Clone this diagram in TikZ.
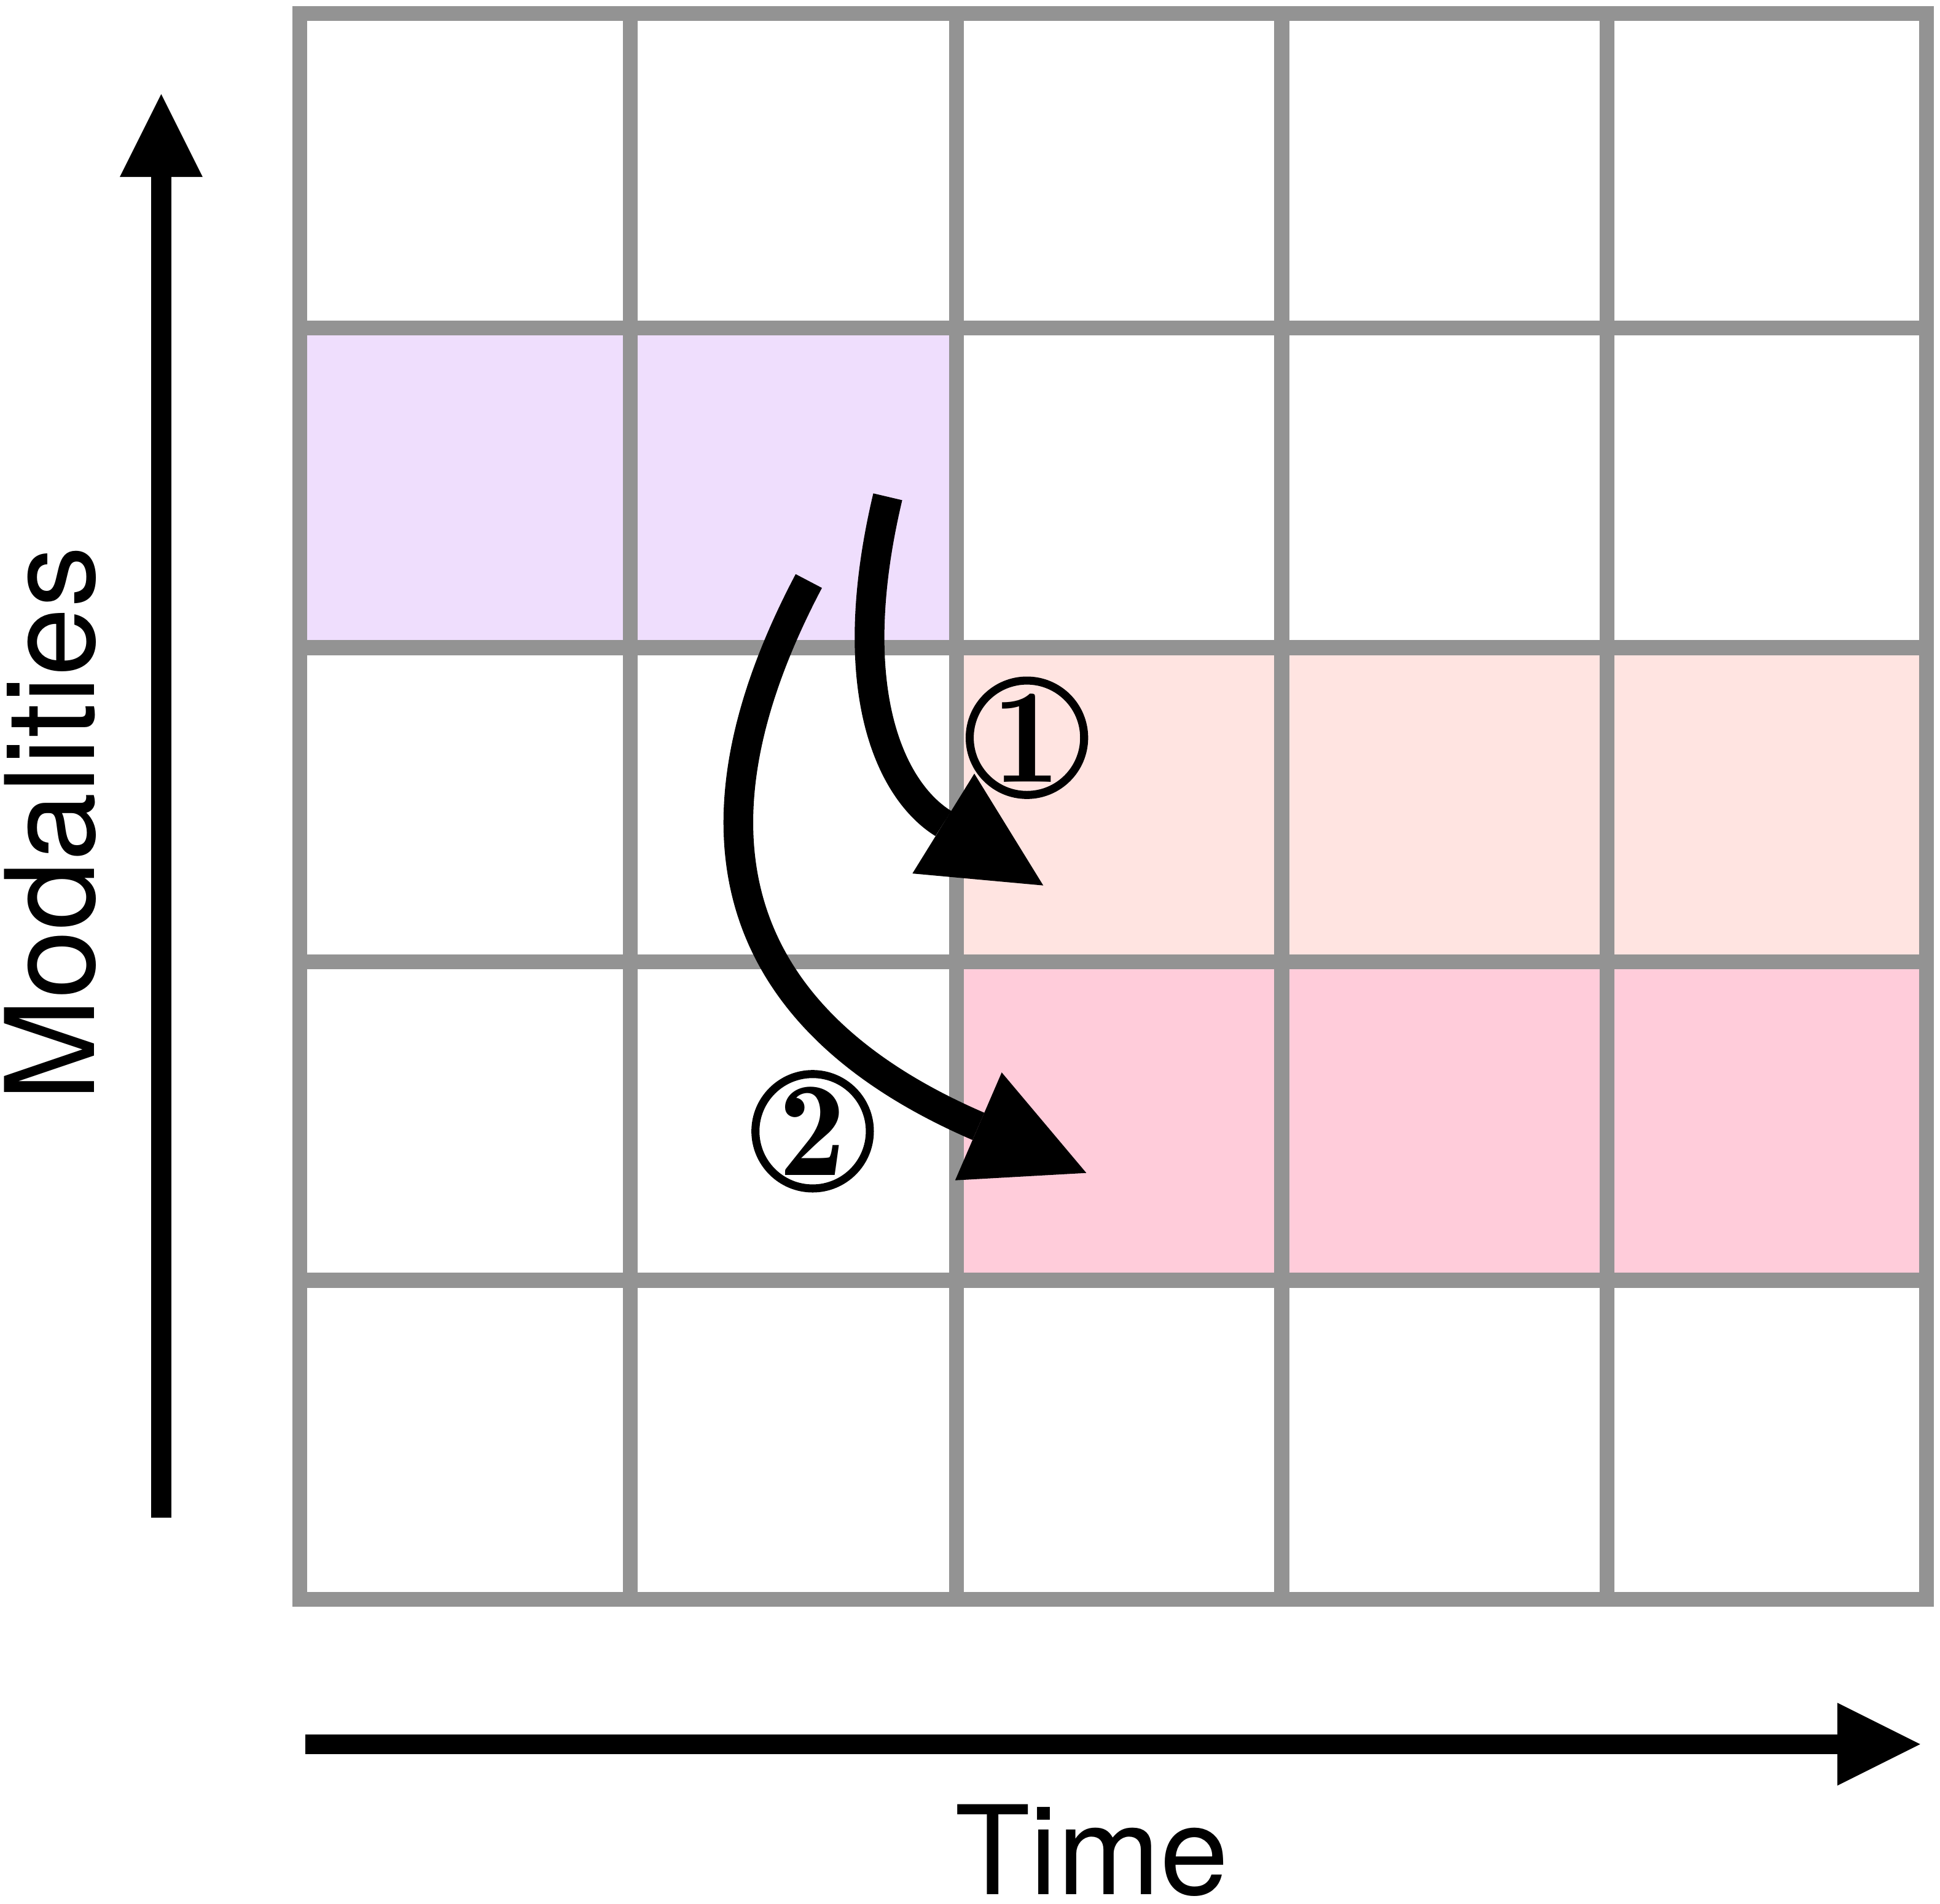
\documentclass[tikz,border=0pt]{standalone}
\usepackage{fontspec}
\setsansfont{TeX Gyre Heros}
\newfontfamily\digitfont{lmromandemi10-regular.otf}
\usetikzlibrary{arrows.meta}
\definecolor{gridgray}{HTML}{939393}
\definecolor{cellpurple}{HTML}{EFDEFD}
\definecolor{cellsalmon}{HTML}{FFE4E1}
\definecolor{cellpink}{HTML}{FFCCDA}
\begin{document}
\begin{tikzpicture}[x=0.02cm,y=-0.02cm,
  gridline/.style={draw=gridgray,line width=0.24cm,line cap=rect},
  axisarrow/.style={line width=0.32cm,-{Triangle[length=1.34cm,width=1.34cm,line width=0pt]}},
  flowarrow/.style={line width=0.48cm,-{Triangle[length=1.9cm,width=1.9cm,line width=0pt]}},
  axislabel/.style={font=\sffamily\fontsize{56.8}{60}\selectfont,inner sep=0pt},
  stepnum/.style={circle,draw,line width=0.13cm,minimum size=1.85cm,inner sep=0pt,
    font=\digitfont\fontsize{62}{64}\selectfont}]
\useasboundingbox (0,0) rectangle (1568,1539.2);
% coloured cells
\fill[cellpurple] (242.3,265) rectangle (773,523.6);
\fill[cellsalmon] (773,523.6) rectangle (1557,777.6);
\fill[cellpink] (773,777.6) rectangle (1557,1035);
% grid
\foreach \gx in {242.3,509.4,773,1036,1298.7,1557}
  \draw[gridline] (\gx,11) -- (\gx,1293.1);
\foreach \gy in {11,265,523.6,777.6,1035,1293.1}
  \draw[gridline] (242.3,\gy) -- (1557,\gy);
% axes
\coordinate (mstart) at (130.3,1227);
\coordinate (mend) at (130.3,76.1);
\draw[axisarrow] (mstart) -- (mend);
\coordinate (tstart) at (247,1410);
\coordinate (tend) at (1552,1410);
\draw[axisarrow] (tstart) -- (tend);
\node[axislabel,rotate=90,anchor=base] (modal) at (76.1,666) {Modalities};
\node[axislabel,anchor=base] (time) at (882.5,1531.6) {Time};
% flow arrows
\coordinate (a1s) at (717.5,401.6);
\coordinate (a1e) at (843.2,715.8);
\draw[flowarrow] (a1s) .. controls (680.5,557.6) and (719.95,639.4) .. (a1e);
\coordinate (a2s) at (653.7,469.7);
\coordinate (a2e) at (878,948.2);
\draw[flowarrow] (a2s) .. controls (536,693) and (610,832.5) .. (a2e);
% step numbers
\node[stepnum] (one) at (830,596.4) {1};
\node[stepnum] (two) at (656.8,914.5) {2};
\end{tikzpicture}
\end{document}
